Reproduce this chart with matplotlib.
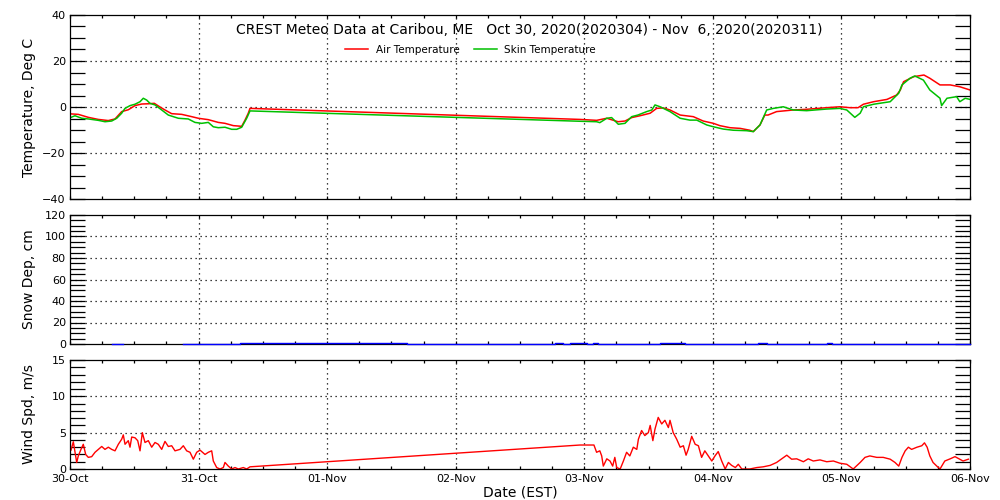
import numpy as np
import matplotlib
matplotlib.use("Agg")
import matplotlib.pyplot as plt
from matplotlib.ticker import MultipleLocator


TITLE = "CREST Meteo Data at Caribou, ME   Oct 30, 2020(2020304) - Nov  6, 2020(2020311)"
DAY_LABELS = ["30-Oct", "31-Oct", "01-Nov", "02-Nov", "03-Nov", "04-Nov", "05-Nov", "06-Nov"]

# hours since 30-Oct 00:00 EST
air_hours = [0.19, 1.55, 3.42, 5.28, 7.15, 8.4, 9.65, 10.88, 12.13, 13.38, 14.62, 15.74,
             16.8, 17.73, 18.98, 20.85, 22.72, 23.95, 25.82, 27.68, 28.93, 30.48, 32.05,
             32.67, 33.28, 33.6, 95.2, 98.3, 100.2, 102.3, 103.6, 104.85, 106.4, 108.3,
             109.5, 110.75, 112.0, 113.9, 116.35, 118.2, 120.1, 121.3, 123.2, 125.1, 126.9,
             127.55, 128.8, 129.7, 130.3, 131.9, 135.0, 137.5, 141.2, 143.7, 145.6, 147.1,
             148.1, 150.0, 152.5, 154.3, 155.0, 155.6, 157.5, 159.4, 160.5, 162.4, 164.3,
             166.1, 168.0]
air_temp = [-3.0, -3.2, -4.5, -5.4, -5.9, -5.2, -2.0, -1.2, 0.6, 1.3, 1.4, 1.6,
            0.0, -1.3, -2.9, -3.2, -4.2, -4.9, -5.5, -6.7, -7.1, -8.1, -8.4,
            -5.7, -2.7, -0.6, -5.4, -5.8, -4.9, -6.4, -6.1, -4.6, -3.8, -2.7,
            -0.6, -0.4, -1.3, -3.5, -4.2, -6.1, -7.1, -8.1, -9.0, -9.3, -10.1,
            -10.7, -7.8, -3.5, -3.5, -2.0, -1.3, -1.0, -0.3, 0.1, -0.3, -0.3,
            1.2, 2.3, 3.3, 5.2, 7.4, 11.0, 13.2, 13.9, 12.5, 9.6, 9.6,
            8.8, 7.4]

skin_hours = [0.19, 0.93, 2.18, 3.42, 5.28, 6.53, 7.78, 8.72, 9.65, 10.27, 11.2, 12.13,
              13.07, 13.68, 14.32, 14.93, 15.87, 17.12, 18.35, 20.22, 22.08, 23.33, 24.58,
              25.82, 26.75, 27.68, 28.93, 30.18, 31.12, 32.05, 32.98, 33.6, 95.2, 98.3,
              98.9, 100.2, 101.1, 102.35, 103.6, 104.85, 106.0, 107.65, 108.6, 109.2,
              110.15, 112.0, 113.9, 115.7, 117.0, 118.85, 120.1, 121.95, 123.8, 126.3,
              127.55, 128.8, 130.05, 131.3, 133.15, 135.0, 137.5, 141.2, 143.7, 145.0,
              146.5, 147.5, 148.1, 150.0, 153.1, 154.7, 155.3, 156.8, 157.7, 159.3, 160.5,
              162.4, 162.7, 163.7, 165.5, 166.1, 167.1, 168.0]
skin_temp = [-4.5, -3.8, -4.9, -5.2, -5.8, -6.4, -6.1, -4.9, -2.7, -0.6, 0.6, 1.2,
             2.3, 3.8, 3.0, 1.6, 0.9, -1.3, -3.5, -4.9, -5.2, -6.7, -7.1,
             -6.7, -8.6, -9.0, -8.8, -9.7, -9.7, -8.8, -4.9, -1.7, -6.2, -6.4,
             -6.8, -4.9, -4.6, -7.5, -7.1, -4.2, -3.5, -2.0, -1.3, 0.9,
             0.1, -2.0, -4.9, -5.7, -5.7, -7.8, -8.6, -9.6, -10.1, -10.3,
             -10.7, -7.8, -1.3, -0.6, 0.1, -1.3, -1.6, -0.9, -0.6, -1.3,
             -4.5, -2.7, 0.1, 1.2, 2.3, 6.0, 9.6, 12.5, 13.5, 11.7, 7.4,
             3.8, 0.6, 3.8, 4.5, 2.3, 3.8, 3.3]

snow_hours = [7.8, 9.9, 21.0, 31.7, 62.9, 90.5, 92.0, 93.3, 96.5, 97.6, 98.6,
              110.1, 114.8, 128.4, 130.1, 141.3, 142.2, 168.0]
snow_cm = [0.0, np.nan, 0.0, 0.8, 0.0, 0.8, 0.0, 0.8, 0.0, 0.8, 0.0,
           0.8, 0.0, 0.8, 0.0, 0.8, 0.0, 0.0]

wind_hours = [0.19, 0.62, 0.93, 1.25, 1.55, 2.05, 2.48, 2.93, 3.42, 4.05, 4.67, 5.28,
              5.92, 6.53, 7.15, 7.78, 8.4, 9.02, 9.65, 9.95, 10.27, 10.88, 11.2, 11.52,
              12.13, 12.64, 13.07, 13.5, 14.0, 14.62, 15.25, 15.87, 16.48, 17.12, 17.73,
              18.35, 18.98, 19.6, 20.53, 21.15, 21.78, 22.4, 23.02, 23.65, 24.27, 25.2,
              25.82, 26.45, 26.75, 27.38, 28.0, 28.62, 28.93, 29.55, 30.18, 30.8, 31.42,
              32.35, 32.98, 33.6, 95.2, 97.8, 98.3, 98.9, 99.25, 99.55, 100.2, 100.8,
              101.3, 101.7, 102.05, 102.7, 103.3, 103.9, 104.5, 105.15, 105.8, 106.1,
              106.7, 107.3, 107.95, 108.3, 108.8, 109.2, 109.8, 110.45, 111.05, 111.7,
              112.0, 112.6, 113.25, 113.9, 114.5, 115.0, 115.4, 116.05, 116.7, 117.3,
              117.9, 118.5, 119.15, 119.8, 120.4, 121.0, 121.65, 122.3, 122.9, 123.5,
              124.2, 124.75, 125.4, 126.9, 128.2, 129.4, 130.7, 131.9, 132.85, 133.8,
              134.7, 135.65, 136.9, 137.8, 138.75, 140.0, 141.25, 142.5, 143.7, 145.0,
              146.2, 147.5, 148.4, 149.3, 150.6, 151.8, 153.1, 154.0, 154.7, 155.3,
              155.9, 156.5, 157.1, 158.1, 159.0, 159.5, 160.0, 160.5, 161.1, 161.8,
              162.4, 163.3, 164.3, 165.2, 166.1, 166.7, 167.7]
wind_speed = [2.6, 3.75, 2.3, 0.9, 1.8, 2.7, 3.4, 2.0, 1.6, 1.7, 2.3, 2.7,
              3.1, 2.7, 3.0, 2.7, 2.5, 3.4, 4.1, 4.7, 3.4, 3.9, 3.0, 4.4,
              4.3, 3.9, 2.5, 5.0, 3.65, 3.9, 3.0, 3.65, 3.4, 2.7, 3.8,
              3.1, 3.2, 2.5, 2.7, 3.2, 2.5, 2.3, 1.35, 2.3, 2.6, 2.0,
              2.3, 2.5, 1.1, 0.2, 0.0, 0.2, 0.9, 0.4, 0.0, 0.2, 0.0,
              0.2, 0.0, 0.3, 3.3, 3.3, 2.3, 2.5, 1.8, 0.4, 1.4, 1.1,
              0.4, 1.6, 0.2, 0.0, 1.1, 2.3, 1.8, 3.0, 2.7, 4.1,
              5.3, 4.6, 5.0, 6.0, 3.9, 5.5, 7.1, 6.2, 6.7, 5.7,
              6.7, 5.0, 4.1, 3.0, 3.2, 1.9, 2.7, 4.5, 3.4, 3.2,
              1.6, 2.5, 1.8, 1.1, 1.8, 2.4, 1.1, 0.0, 0.9, 0.5,
              0.2, 0.65, 0.0, 0.0, 0.2, 0.3, 0.5, 0.9, 1.4, 1.9,
              1.35, 1.4, 1.0, 1.4, 1.1, 1.25, 1.0, 1.1, 0.8, 0.65,
              0.0, 0.9, 1.6, 1.8, 1.6, 1.6, 1.35, 0.9, 0.4, 1.6,
              2.5, 3.0, 2.7, 3.0, 3.2, 3.6, 3.0, 1.8, 0.9, 0.4,
              0.0, 1.1, 1.4, 1.7, 1.35, 1.1, 1.35]

RED = "#ff0000"
GREEN = "#00c000"
BLUE = "#0000ff"
FS = 10
TICK_FS = 8
GRID = dict(color="black", linestyle=(0, (1, 3)), linewidth=0.9)

plt.rcParams["font.family"] = "DejaVu Sans"

fig = plt.figure(figsize=(10, 5), dpi=100)
ax_t = fig.add_axes([0.07, 0.602, 0.9, 0.368])
ax_s = fig.add_axes([0.07, 0.312, 0.9, 0.258])
ax_w = fig.add_axes([0.07, 0.062, 0.9, 0.218])


def style_axis(ax, ylim, major, minor, ylabel, show_x):
    ax.set_xlim(0, 168)
    ax.set_ylim(*ylim)
    ax.xaxis.set_major_locator(MultipleLocator(24))
    ax.xaxis.set_minor_locator(MultipleLocator(6))
    ax.yaxis.set_major_locator(MultipleLocator(major))
    ax.yaxis.set_minor_locator(MultipleLocator(minor))
    ax.tick_params(axis="y", which="both", direction="in", length=10.5, width=0.9,
                   left=True, right=True, labelsize=TICK_FS, pad=3)
    ax.tick_params(axis="x", which="both", direction="in", length=2.5, width=0.9,
                   top=True, bottom=True, labelsize=TICK_FS, pad=3.5)
    if show_x:
        ax.set_xticks(np.arange(0, 169, 24))
        ax.set_xticklabels(DAY_LABELS)
    else:
        ax.set_xticklabels([])
    for sp in ax.spines.values():
        sp.set_linewidth(0.9)
    ax.set_ylabel(ylabel, fontsize=FS)
    ax.yaxis.set_label_coords(-0.038, 0.5)
    for h in range(24, 168, 24):
        ax.axvline(h, zorder=0.5, **GRID)
    lo, hi = ylim
    for v in np.arange(lo + major, hi, major):
        ax.axhline(v, zorder=0.5, **GRID)


style_axis(ax_t, (-40, 40), 20, 5, "Temperature, Deg C", False)
style_axis(ax_s, (0, 120), 20, 5, "Snow Dep, cm", False)
style_axis(ax_w, (0, 15), 5, 1, "Wind Spd, m/s", True)

ax_t.plot(air_hours, air_temp, color=RED, linewidth=1.1, label="Air Temperature")
ax_t.plot(skin_hours, skin_temp, color=GREEN, linewidth=1.1, label="Skin Temperature")
ax_t.text(0.51, 0.918, TITLE, transform=ax_t.transAxes, ha="center", va="center", fontsize=FS)
ax_t.legend(loc="center", bbox_to_anchor=(0.445, 0.81), ncol=2, frameon=False,
            fontsize=7.5, handlelength=2.2, handletextpad=0.7, columnspacing=1.4,
            borderpad=0, borderaxespad=0)

ax_s.plot(snow_hours, snow_cm, color=BLUE, linewidth=1.0, drawstyle="steps-post",
          zorder=3, clip_on=False)

ax_w.plot(wind_hours, wind_speed, color=RED, linewidth=1.0)
ax_w.set_xlabel("Date (EST)", fontsize=FS, labelpad=1)

fig.savefig("out.png", dpi=100)
